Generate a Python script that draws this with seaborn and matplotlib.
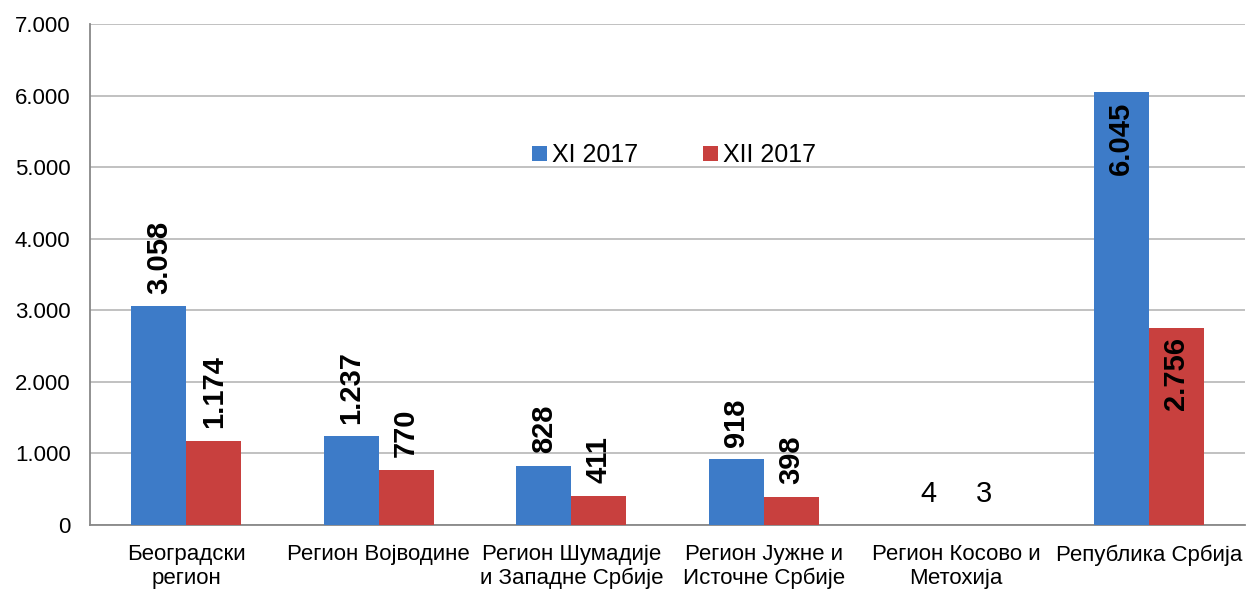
import matplotlib
matplotlib.use("Agg")
import matplotlib.pyplot as plt
import seaborn as sns
import pandas as pd
import numpy as np

categories = ["Београдски\nрегион", "Регион Војводине", "Регион Шумадије\nи Западне Србије",
              "Регион Јужне и\nИсточне Србије", "Регион Косово и\nМетохија", "Република Србија"]
series_names = ["XI 2017", "XII 2017"]
xi_2017 = [3058, 1237, 828, 918, 4, 6045]
xii_2017 = [1174, 770, 411, 398, 3, 2756]
y_ticks = [0, 1000, 2000, 3000, 4000, 5000, 6000, 7000]
y_tick_labels = ["0", "1.000", "2.000", "3.000", "4.000", "5.000", "6.000", "7.000"]

def fmt(v):
    return f"{v:,}".replace(",", ".")

df = pd.DataFrame({
    "region": categories * 2,
    "series": [series_names[0]] * len(categories) + [series_names[1]] * len(categories),
    "value": xi_2017 + xii_2017,
})

sns.set_style("white")
plt.rcParams["font.family"] = ["Liberation Sans", "DejaVu Sans"]
plt.rcParams["text.color"] = "black"
plt.rcParams["xtick.color"] = "black"
plt.rcParams["ytick.color"] = "black"
plt.rcParams["xtick.labelcolor"] = "black"
plt.rcParams["ytick.labelcolor"] = "black"

fig = plt.figure(figsize=(12.53, 5.90), dpi=100)
ax = fig.add_axes([90 / 1253, 1 - 525 / 590, (1245 - 90) / 1253, 501 / 590])

palette = {"XI 2017": "#3D7BC8", "XII 2017": "#C8403E"}
sns.barplot(data=df, x="region", y="value", hue="series", order=categories,
            hue_order=series_names, palette=palette, width=0.57, gap=0,
            saturation=1, ax=ax, edgecolor="none", linewidth=0, zorder=3)

ax.set_ylim(0, 7000)
ax.set_xlim(-0.5, len(categories) - 0.5)
ax.set_yticks(y_ticks)
ax.set_yticklabels(y_tick_labels, fontsize=16, color="black")
ax.grid(axis="y", color="#b0b0b0", linewidth=1.1, zorder=0)
ax.set_axisbelow(True)
ax.set_xlabel("")
ax.set_ylabel("")

for s in ["top", "right"]:
    ax.spines[s].set_visible(False)
for s in ["left", "bottom"]:
    ax.spines[s].set_color("#888888")
    ax.spines[s].set_linewidth(1.3)

ax.tick_params(axis="y", which="major", length=8, color="#888888", width=1.1, pad=6)
ax.set_xticks(range(len(categories)))
ax.set_xticklabels(categories, fontsize=16, linespacing=1.15, color="black")
ax.tick_params(axis="x", which="major", length=0, pad=14)
ax.set_xticks(np.arange(-0.5, len(categories), 1.0), minor=True)
ax.tick_params(axis="x", which="minor", length=8, color="#888888", width=1.1)

# value labels
containers = ax.containers
for ci, cont in enumerate(containers):
    vals = xi_2017 if ci == 0 else xii_2017
    for i, (bar, v) in enumerate(zip(cont.patches, vals)):
        xc = bar.get_x() + bar.get_width() / 2
        h = bar.get_height()
        if i == len(categories) - 1:
            ax.annotate(fmt(v), (xc, h), xytext=(0, -7), textcoords="offset points",
                        rotation=90, ha="center", va="top", fontsize=21,
                        fontweight="bold", color="black")
        elif v < 100:
            ax.annotate(fmt(v), (xc, h), xytext=(0, 12), textcoords="offset points",
                        ha="center", va="bottom", fontsize=21, color="black")
        else:
            ax.annotate(fmt(v), (xc, h), xytext=(0, 9), textcoords="offset points",
                        rotation=90, ha="center", va="bottom", fontsize=21,
                        fontweight="bold", color="black")

leg = ax.legend(loc="center", bbox_to_anchor=(0.506, 0.738), ncol=2, frameon=False,
                fontsize=18, handlelength=0.6, handleheight=0.6, handletextpad=0.2,
                columnspacing=2.6)
for t in leg.get_texts():
    t.set_color("black")

fig.savefig("out.png", dpi=100, facecolor="white")
